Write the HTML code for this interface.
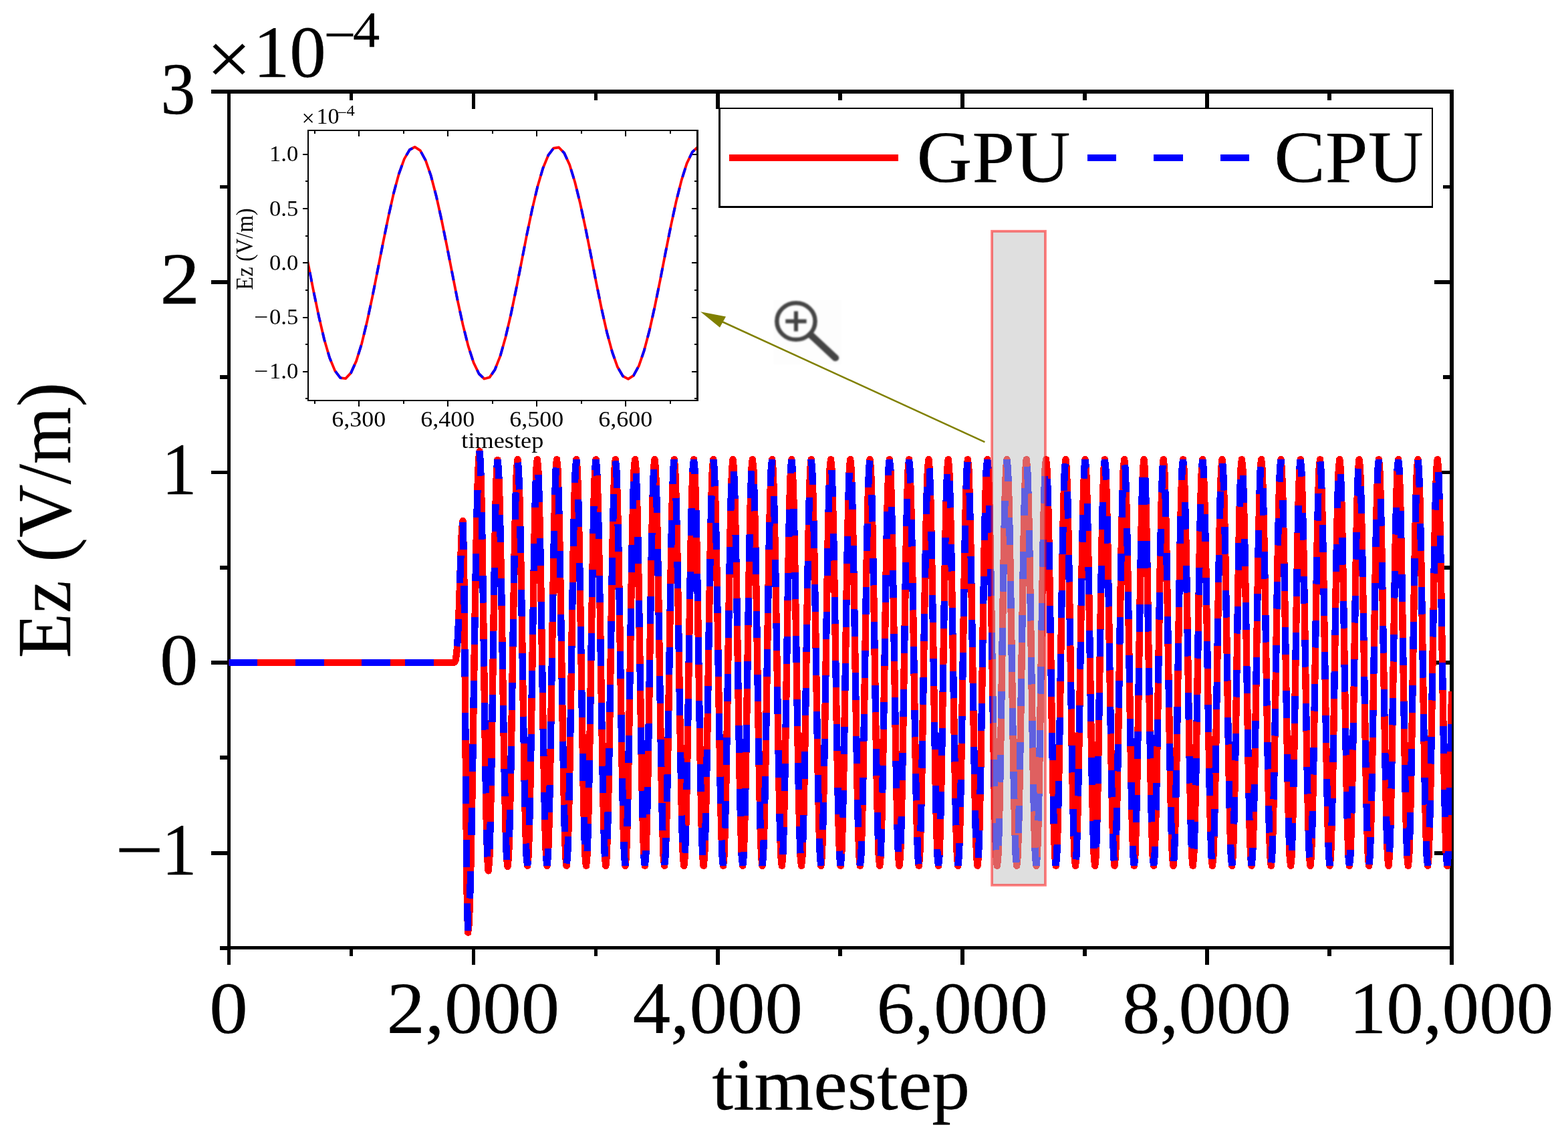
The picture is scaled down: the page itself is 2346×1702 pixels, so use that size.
<!DOCTYPE html>
<html lang="en"><head><meta charset="utf-8"><title>Ez (V/m) vs timestep: GPU and CPU</title>
<style>html,body{margin:0;padding:0;background:#fff}body{width:2346px;height:1702px;overflow:hidden}svg{display:block}text{font-family:"Liberation Serif", serif;fill:#000;stroke:#000;stroke-width:0.25;stroke-linejoin:round}.s text{stroke:none}</style></head><body>
<svg width="2346" height="1702" viewBox="0 0 2346 1702" role="img" aria-label="Ez (V/m) versus timestep, GPU and CPU curves with zoomed inset">
<rect width="2346" height="1702" fill="#fff"/>
<defs><clipPath id="cm"><rect x="342.5" y="137" width="1829.5" height="1280.4"/></clipPath><clipPath id="ci"><rect x="461.3" y="194.9" width="582.3" height="404.1"/></clipPath><filter id="bl" x="-10%" y="-10%" width="120%" height="120%"><feGaussianBlur stdDeviation="0.9"/></filter></defs>
<g id="main-ticks" fill="#000" shape-rendering="crispEdges">
<rect x="339.6" y="1417" width="5.8" height="25.5"/>
<rect x="522.6" y="1417" width="5.8" height="12.5"/>
<rect x="522.6" y="137" width="5.8" height="12.5"/>
<rect x="705.5" y="1417" width="5.8" height="25.5"/>
<rect x="705.5" y="137" width="5.8" height="25.5"/>
<rect x="888.5" y="1417" width="5.8" height="12.5"/>
<rect x="888.5" y="137" width="5.8" height="12.5"/>
<rect x="1071.4" y="1417" width="5.8" height="25.5"/>
<rect x="1071.4" y="137" width="5.8" height="25.5"/>
<rect x="1254.3" y="1417" width="5.8" height="12.5"/>
<rect x="1254.3" y="137" width="5.8" height="12.5"/>
<rect x="1437.3" y="1417" width="5.8" height="25.5"/>
<rect x="1437.3" y="137" width="5.8" height="25.5"/>
<rect x="1620.2" y="1417" width="5.8" height="12.5"/>
<rect x="1620.2" y="137" width="5.8" height="12.5"/>
<rect x="1803.2" y="1417" width="5.8" height="25.5"/>
<rect x="1803.2" y="137" width="5.8" height="25.5"/>
<rect x="1986.1" y="1417" width="5.8" height="12.5"/>
<rect x="1986.1" y="137" width="5.8" height="12.5"/>
<rect x="2169.1" y="1417" width="5.8" height="25.5"/>
<rect x="329.2" y="1415" width="13.3" height="5.8"/>
<rect x="316" y="1272.7" width="26.5" height="5.8"/>
<rect x="2145.5" y="1272.7" width="26.5" height="5.8"/>
<rect x="329.2" y="1130.4" width="13.3" height="5.8"/>
<rect x="2158.7" y="1130.4" width="13.3" height="5.8"/>
<rect x="316" y="988.1" width="26.5" height="5.8"/>
<rect x="2145.5" y="988.1" width="26.5" height="5.8"/>
<rect x="329.2" y="845.8" width="13.3" height="5.8"/>
<rect x="2158.7" y="845.8" width="13.3" height="5.8"/>
<rect x="316" y="703.5" width="26.5" height="5.8"/>
<rect x="2145.5" y="703.5" width="26.5" height="5.8"/>
<rect x="329.2" y="561.2" width="13.3" height="5.8"/>
<rect x="2158.7" y="561.2" width="13.3" height="5.8"/>
<rect x="316" y="418.9" width="26.5" height="5.8"/>
<rect x="2145.5" y="418.9" width="26.5" height="5.8"/>
<rect x="329.2" y="276.6" width="13.3" height="5.8"/>
<rect x="2158.7" y="276.6" width="13.3" height="5.8"/>
<rect x="316" y="134.3" width="26.5" height="5.8"/>
</g>
<g id="main-spines" fill="#000" shape-rendering="crispEdges">
<rect x="340" y="134" width="5" height="1286"/>
<rect x="2169" y="134" width="6" height="1286"/>
<rect x="340" y="134" width="1835" height="6"/>
<rect x="340" y="1415" width="1835" height="5"/>
</g>
<g id="main-curves" clip-path="url(#cm)"><g transform="scale(1.047 1)" fill="none" stroke-width="9.9" shape-rendering="crispEdges">
<g stroke="#f00" stroke-linejoin="round">
<polyline points="327.1,991 579.1,991 646.9,991 648.3,991 649.7,990.5 651.2,986.8 652.7,975.8 654.1,954.3 655.6,920.8 657,877.4 658.5,831.3 659.9,794 661.4,779 662.9,837.8 664.3,991.8 665.8,1182.1 667.3,1336 668.7,1394.8 670.1,1382.6 671.5,1346.6 672.9,1289.4 674.3,1214.8 675.7,1128 677,1034.8 678.4,941.6 679.8,854.8 681.2,780.3 682.6,723 684,687.1 685.3,674.8 686.7,693.7 688.1,748.3 689.5,831.8 690.9,934.2 692.3,1043.2 693.7,1145.7 695.1,1229.2 696.5,1283.7 697.9,1302.6 699.4,1284.1 700.8,1230.7 702.3,1148.9 703.7,1048.5 705.2,941.7 706.7,841.4 708.1,759.6 709.6,706.2 711,687.6 712.5,702.5 713.9,745.7 715.3,813 716.8,897.8 718.2,991.9 719.6,1085.9 721.1,1170.7 722.5,1238 723.9,1281.2 725.4,1296.1 726.8,1281.2 728.2,1237.9 729.7,1170.6 731.1,1085.7 732.5,991.6 734,897.5 735.4,812.6 736.8,745.2 738.3,702 739.7,687 741.1,701.9 742.5,745.1 743.9,812.3 745.3,897.1 746.7,991 748.1,1084.9 749.5,1169.7 750.9,1236.9 752.3,1280.1 753.7,1295 755.1,1280.1 756.5,1236.9 757.9,1169.7 759.3,1084.9 760.7,991 762.1,897.1 763.5,812.3 764.9,745.1 766.3,701.9 767.7,687 769.1,701.9 770.5,745.1 771.9,812.3 773.3,897.1 774.7,991 776.1,1084.9 777.5,1169.7 778.9,1236.9 780.3,1280.1 781.7,1295 783.1,1280.1 784.5,1236.9 785.9,1169.7 787.3,1084.9 788.7,991 790.1,897.1 791.5,812.3 792.9,745.1 794.3,701.9 795.6,687 797,701.9 798.4,745.1 799.8,812.3 801.2,897.1 802.6,991 804,1084.9 805.4,1169.7 806.8,1236.9 808.2,1280.1 809.6,1295 811,1280.1 812.4,1236.9 813.8,1169.7 815.2,1084.9 816.6,991 818,897.1 819.4,812.3 820.8,745.1 822.2,701.9 823.6,687 825,701.9 826.4,745.1 827.8,812.3 829.2,897.1 830.6,991 832,1084.9 833.4,1169.7 834.8,1236.9 836.2,1280.1 837.6,1295 839,1280.1 840.4,1236.9 841.8,1169.7 843.2,1084.9 844.6,991 846,897.1 847.4,812.3 848.8,745.1 850.2,701.9 851.6,687 853,701.9 854.4,745.1 855.8,812.3 857.2,897.1 858.6,991 860,1084.9 861.4,1169.7 862.8,1236.9 864.2,1280.1 865.6,1295 867,1280.1 868.4,1236.9 869.8,1169.7 871.2,1084.9 872.6,991 874,897.1 875.4,812.3 876.8,745.1 878.2,701.9 879.5,687 880.9,701.9 882.3,745.1 883.7,812.3 885.1,897.1 886.5,991 887.9,1084.9 889.3,1169.7 890.7,1236.9 892.1,1280.1 893.5,1295 894.9,1280.1 896.3,1236.9 897.7,1169.7 899.1,1084.9 900.5,991 901.9,897.1 903.3,812.3 904.7,745.1 906.1,701.9 907.5,687 908.9,701.9 910.3,745.1 911.7,812.3 913.1,897.1 914.5,991 915.9,1084.9 917.3,1169.7 918.7,1236.9 920.1,1280.1 921.5,1295 922.9,1280.1 924.3,1236.9 925.7,1169.7 927.1,1084.9 928.5,991 929.9,897.1 931.3,812.3 932.7,745.1 934.1,701.9 935.5,687 936.9,701.9 938.3,745.1 939.7,812.3 941.1,897.1 942.5,991 943.9,1084.9 945.3,1169.7 946.7,1236.9 948.1,1280.1 949.5,1295 950.9,1280.1 952.3,1236.9 953.7,1169.7 955.1,1084.9 956.5,991 957.9,897.1 959.3,812.3 960.7,745.1 962.1,701.9 963.4,687 964.8,701.9 966.2,745.1 967.6,812.3 969,897.1 970.4,991 971.8,1084.9 973.2,1169.7 974.6,1236.9 976,1280.1 977.4,1295 978.8,1280.1 980.2,1236.9 981.6,1169.7 983,1084.9 984.4,991 985.8,897.1 987.2,812.3 988.6,745.1 990,701.9 991.4,687 992.8,701.9 994.2,745.1 995.6,812.3 997,897.1 998.4,991 999.8,1084.9 1001.2,1169.7 1002.6,1236.9 1004,1280.1 1005.4,1295 1006.8,1280.1 1008.2,1236.9 1009.6,1169.7 1011,1084.9 1012.4,991 1013.8,897.1 1015.2,812.3 1016.6,745.1 1018,701.9 1019.4,687 1020.8,701.9 1022.2,745.1 1023.6,812.3 1025,897.1 1026.4,991 1027.8,1084.9 1029.2,1169.7 1030.6,1236.9 1032,1280.1 1033.4,1295 1034.8,1280.1 1036.2,1236.9 1037.6,1169.7 1039,1084.9 1040.4,991 1041.8,897.1 1043.2,812.3 1044.6,745.1 1046,701.9 1047.3,687 1048.7,701.9 1050.1,745.1 1051.5,812.3 1052.9,897.1 1054.3,991 1055.7,1084.9 1057.1,1169.7 1058.5,1236.9 1059.9,1280.1 1061.3,1295 1062.7,1280.1 1064.1,1236.9 1065.5,1169.7 1066.9,1084.9 1068.3,991 1069.7,897.1 1071.1,812.3 1072.5,745.1 1073.9,701.9 1075.3,687 1076.7,701.9 1078.1,745.1 1079.5,812.3 1080.9,897.1 1082.3,991 1083.7,1084.9 1085.1,1169.7 1086.5,1236.9 1087.9,1280.1 1089.3,1295 1090.7,1280.1 1092.1,1236.9 1093.5,1169.7 1094.9,1084.9 1096.3,991 1097.7,897.1 1099.1,812.3 1100.5,745.1 1101.9,701.9 1103.3,687 1104.7,701.9 1106.1,745.1 1107.5,812.3 1108.9,897.1 1110.3,991 1111.7,1084.9 1113.1,1169.7 1114.5,1236.9 1115.9,1280.1 1117.3,1295 1118.7,1280.1 1120.1,1236.9 1121.5,1169.7 1122.9,1084.9 1124.3,991 1125.7,897.1 1127.1,812.3 1128.5,745.1 1129.9,701.9 1131.2,687 1132.6,701.9 1134,745.1 1135.4,812.3 1136.8,897.1 1138.2,991 1139.6,1084.9 1141,1169.7 1142.4,1236.9 1143.8,1280.1 1145.2,1295 1146.6,1280.1 1148,1236.9 1149.4,1169.7 1150.8,1084.9 1152.2,991 1153.6,897.1 1155,812.3 1156.4,745.1 1157.8,701.9 1159.2,687 1160.6,701.9 1162,745.1 1163.4,812.3 1164.8,897.1 1166.2,991 1167.6,1084.9 1169,1169.7 1170.4,1236.9 1171.8,1280.1 1173.2,1295 1174.6,1280.1 1176,1236.9 1177.4,1169.7 1178.8,1084.9 1180.2,991 1181.6,897.1 1183,812.3 1184.4,745.1 1185.8,701.9 1187.2,687 1188.6,701.9 1190,745.1 1191.4,812.3 1192.8,897.1 1194.2,991 1195.6,1084.9 1197,1169.7 1198.4,1236.9 1199.8,1280.1 1201.2,1295 1202.6,1280.1 1204,1236.9 1205.4,1169.7 1206.8,1084.9 1208.2,991 1209.6,897.1 1211,812.3 1212.4,745.1 1213.8,701.9 1215.1,687 1216.5,701.9 1217.9,745.1 1219.3,812.3 1220.7,897.1 1222.1,991 1223.5,1084.9 1224.9,1169.7 1226.3,1236.9 1227.7,1280.1 1229.1,1295 1230.5,1280.1 1231.9,1236.9 1233.3,1169.7 1234.7,1084.9 1236.1,991 1237.5,897.1 1238.9,812.3 1240.3,745.1 1241.7,701.9 1243.1,687 1244.5,701.9 1245.9,745.1 1247.3,812.3 1248.7,897.1 1250.1,991 1251.5,1084.9 1252.9,1169.7 1254.3,1236.9 1255.7,1280.1 1257.1,1295 1258.5,1280.1 1259.9,1236.9 1261.3,1169.7 1262.7,1084.9 1264.1,991 1265.5,897.1 1266.9,812.3 1268.3,745.1 1269.7,701.9 1271.1,687 1272.5,701.9 1273.9,745.1 1275.3,812.3 1276.7,897.1 1278.1,991 1279.5,1084.9 1280.9,1169.7 1282.3,1236.9 1283.7,1280.1 1285.1,1295 1286.5,1280.1 1287.9,1236.9 1289.3,1169.7 1290.7,1084.9 1292.1,991 1293.5,897.1 1294.9,812.3 1296.3,745.1 1297.7,701.9 1299,687 1300.4,701.9 1301.8,745.1 1303.2,812.3 1304.6,897.1 1306,991 1307.4,1084.9 1308.8,1169.7 1310.2,1236.9 1311.6,1280.1 1313,1295 1314.4,1280.1 1315.8,1236.9 1317.2,1169.7 1318.6,1084.9 1320,991 1321.4,897.1 1322.8,812.3 1324.2,745.1 1325.6,701.9 1327,687 1328.4,701.9 1329.8,745.1 1331.2,812.3 1332.6,897.1 1334,991 1335.4,1084.9 1336.8,1169.7 1338.2,1236.9 1339.6,1280.1 1341,1295 1342.4,1280.1 1343.8,1236.9 1345.2,1169.7 1346.6,1084.9 1348,991 1349.4,897.1 1350.8,812.3 1352.2,745.1 1353.6,701.9 1355,687 1356.4,701.9 1357.8,745.1 1359.2,812.3 1360.6,897.1 1362,991 1363.4,1084.9 1364.8,1169.7 1366.2,1236.9 1367.6,1280.1 1369,1295 1370.4,1280.1 1371.8,1236.9 1373.2,1169.7 1374.6,1084.9 1376,991 1377.4,897.1 1378.8,812.3 1380.2,745.1 1381.6,701.9 1382.9,687 1384.3,701.9 1385.7,745.1 1387.1,812.3 1388.5,897.1 1389.9,991 1391.3,1084.9 1392.7,1169.7 1394.1,1236.9 1395.5,1280.1 1396.9,1295 1398.3,1280.1 1399.7,1236.9 1401.1,1169.7 1402.5,1084.9 1403.9,991 1405.3,897.1 1406.7,812.3 1408.1,745.1 1409.5,701.9 1410.9,687 1412.3,701.9 1413.7,745.1 1415.1,812.3 1416.5,897.1 1417.9,991 1419.3,1084.9 1420.7,1169.7 1422.1,1236.9 1423.5,1280.1 1424.9,1295 1426.3,1280.1 1427.7,1236.9 1429.1,1169.7 1430.5,1084.9 1431.9,991 1433.3,897.1 1434.7,812.3 1436.1,745.1 1437.5,701.9 1438.9,687 1440.3,701.9 1441.7,745.1 1443.1,812.3 1444.5,897.1 1445.9,991 1447.3,1084.9 1448.7,1169.7 1450.1,1236.9 1451.5,1280.1 1452.9,1295 1454.3,1280.1 1455.7,1236.9 1457.1,1169.7 1458.5,1084.9 1459.9,991 1461.3,897.1 1462.7,812.3 1464.1,745.1 1465.5,701.9 1466.8,687 1468.2,701.9 1469.6,745.1 1471,812.3 1472.4,897.1 1473.8,991 1475.2,1084.9 1476.6,1169.7 1478,1236.9 1479.4,1280.1 1480.8,1295 1482.2,1280.1 1483.6,1236.9 1485,1169.7 1486.4,1084.9 1487.8,991 1489.2,897.1 1490.6,812.3 1492,745.1 1493.4,701.9 1494.8,687 1496.2,701.9 1497.6,745.1 1499,812.3 1500.4,897.1 1501.8,991 1503.2,1084.9 1504.6,1169.7 1506,1236.9 1507.4,1280.1 1508.8,1295 1510.2,1280.1 1511.6,1236.9 1513,1169.7 1514.4,1084.9 1515.8,991 1517.2,897.1 1518.6,812.3 1520,745.1 1521.4,701.9 1522.8,687 1524.2,701.9 1525.6,745.1 1527,812.3 1528.4,897.1 1529.8,991 1531.2,1084.9 1532.6,1169.7 1534,1236.9 1535.4,1280.1 1536.8,1295 1538.2,1280.1 1539.6,1236.9 1541,1169.7 1542.4,1084.9 1543.8,991 1545.2,897.1 1546.6,812.3 1548,745.1 1549.4,701.9 1550.7,687 1552.1,701.9 1553.5,745.1 1554.9,812.3 1556.3,897.1 1557.7,991 1559.1,1084.9 1560.5,1169.7 1561.9,1236.9 1563.3,1280.1 1564.7,1295 1566.1,1280.1 1567.5,1236.9 1568.9,1169.7 1570.3,1084.9 1571.7,991 1573.1,897.1 1574.5,812.3 1575.9,745.1 1577.3,701.9 1578.7,687 1580.1,701.9 1581.5,745.1 1582.9,812.3 1584.3,897.1 1585.7,991 1587.1,1084.9 1588.5,1169.7 1589.9,1236.9 1591.3,1280.1 1592.7,1295 1594.1,1280.1 1595.5,1236.9 1596.9,1169.7 1598.3,1084.9 1599.7,991 1601.1,897.1 1602.5,812.3 1603.9,745.1 1605.3,701.9 1606.7,687 1608.1,701.9 1609.5,745.1 1610.9,812.3 1612.3,897.1 1613.7,991 1615.1,1084.9 1616.5,1169.7 1617.9,1236.9 1619.3,1280.1 1620.7,1295 1622.1,1280.1 1623.5,1236.9 1624.9,1169.7 1626.3,1084.9 1627.7,991 1629.1,897.1 1630.5,812.3 1631.9,745.1 1633.3,701.9 1634.6,687 1636,701.9 1637.4,745.1 1638.8,812.3 1640.2,897.1 1641.6,991 1643,1084.9 1644.4,1169.7 1645.8,1236.9 1647.2,1280.1 1648.6,1295 1650,1280.1 1651.4,1236.9 1652.8,1169.7 1654.2,1084.9 1655.6,991 1657,897.1 1658.4,812.3 1659.8,745.1 1661.2,701.9 1662.6,687 1664,701.9 1665.4,745.1 1666.8,812.3 1668.2,897.1 1669.6,991 1671,1084.9 1672.4,1169.7 1673.8,1236.9 1675.2,1280.1 1676.6,1295 1678,1280.1 1679.4,1236.9 1680.8,1169.7 1682.2,1084.9 1683.6,991 1685,897.1 1686.4,812.3 1687.8,745.1 1689.2,701.9 1690.6,687 1692,701.9 1693.4,745.1 1694.8,812.3 1696.2,897.1 1697.6,991 1699,1084.9 1700.4,1169.7 1701.8,1236.9 1703.2,1280.1 1704.6,1295 1706,1280.1 1707.4,1236.9 1708.8,1169.7 1710.2,1084.9 1711.6,991 1713,897.1 1714.4,812.3 1715.8,745.1 1717.2,701.9 1718.5,687 1719.9,701.9 1721.3,745.1 1722.7,812.3 1724.1,897.1 1725.5,991 1726.9,1084.9 1728.3,1169.7 1729.7,1236.9 1731.1,1280.1 1732.5,1295 1733.9,1280.1 1735.3,1236.9 1736.7,1169.7 1738.1,1084.9 1739.5,991 1740.9,897.1 1742.3,812.3 1743.7,745.1 1745.1,701.9 1746.5,687 1747.9,701.9 1749.3,745.1 1750.7,812.3 1752.1,897.1 1753.5,991 1754.9,1084.9 1756.3,1169.7 1757.7,1236.9 1759.1,1280.1 1760.5,1295 1761.9,1280.1 1763.3,1236.9 1764.7,1169.7 1766.1,1084.9 1767.5,991 1768.9,897.1 1770.3,812.3 1771.7,745.1 1773.1,701.9 1774.5,687 1775.9,701.9 1777.3,745.1 1778.7,812.3 1780.1,897.1 1781.5,991 1782.9,1084.9 1784.3,1169.7 1785.7,1236.9 1787.1,1280.1 1788.5,1295 1789.9,1280.1 1791.3,1236.9 1792.7,1169.7 1794.1,1084.9 1795.5,991 1796.9,897.1 1798.3,812.3 1799.7,745.1 1801.1,701.9 1802.4,687 1803.8,701.9 1805.2,745.1 1806.6,812.3 1808,897.1 1809.4,991 1810.8,1084.9 1812.2,1169.7 1813.6,1236.9 1815,1280.1 1816.4,1295 1817.8,1280.1 1819.2,1236.9 1820.6,1169.7 1822,1084.9 1823.4,991 1824.8,897.1 1826.2,812.3 1827.6,745.1 1829,701.9 1830.4,687 1831.8,701.9 1833.2,745.1 1834.6,812.3 1836,897.1 1837.4,991 1838.8,1084.9 1840.2,1169.7 1841.6,1236.9 1843,1280.1 1844.4,1295 1845.8,1280.1 1847.2,1236.9 1848.6,1169.7 1850,1084.9 1851.4,991 1852.8,897.1 1854.2,812.3 1855.6,745.1 1857,701.9 1858.4,687 1859.8,701.9 1861.2,745.1 1862.6,812.3 1864,897.1 1865.4,991 1866.8,1084.9 1868.2,1169.7 1869.6,1236.9 1871,1280.1 1872.4,1295 1873.8,1280.1 1875.2,1236.9 1876.6,1169.7 1878,1084.9 1879.4,991 1880.8,897.1 1882.2,812.3 1883.6,745.1 1885,701.9 1886.4,687 1887.7,701.9 1889.1,745.1 1890.5,812.3 1891.9,897.1 1893.3,991 1894.7,1084.9 1896.1,1169.7 1897.5,1236.9 1898.9,1280.1 1900.3,1295 1901.7,1280.1 1903.1,1236.9 1904.5,1169.7 1905.9,1084.9 1907.3,991 1908.7,897.1 1910.1,812.3 1911.5,745.1 1912.9,701.9 1914.3,687 1915.7,701.9 1917.1,745.1 1918.5,812.3 1919.9,897.1 1921.3,991 1922.7,1084.9 1924.1,1169.7 1925.5,1236.9 1926.9,1280.1 1928.3,1295 1929.7,1280.1 1931.1,1236.9 1932.5,1169.7 1933.9,1084.9 1935.3,991 1936.7,897.1 1938.1,812.3 1939.5,745.1 1940.9,701.9 1942.3,687 1943.7,701.9 1945.1,745.1 1946.5,812.3 1947.9,897.1 1949.3,991 1950.7,1084.9 1952.1,1169.7 1953.5,1236.9 1954.9,1280.1 1956.3,1295 1957.7,1280.1 1959.1,1236.9 1960.5,1169.7 1961.9,1084.9 1963.3,991 1964.7,897.1 1966.1,812.3 1967.5,745.1 1968.9,701.9 1970.3,687 1971.6,701.9 1973,745.1 1974.4,812.3 1975.8,897.1 1977.2,991 1978.6,1084.9 1980,1169.7 1981.4,1236.9 1982.8,1280.1 1984.2,1295 1985.6,1280.1 1987,1236.9 1988.4,1169.7 1989.8,1084.9 1991.2,991 1992.6,897.1 1994,812.3 1995.4,745.1 1996.8,701.9 1998.2,687 1999.6,701.9 2001,745.1 2002.4,812.3 2003.8,897.1 2005.2,991 2006.6,1084.9 2008,1169.7 2009.4,1236.9 2010.8,1280.1 2012.2,1295 2013.6,1280.1 2015,1236.9 2016.4,1169.7 2017.8,1084.9 2019.2,991 2020.6,897.1 2022,812.3 2023.4,745.1 2024.8,701.9 2026.2,687 2027.6,701.9 2029,745.1 2030.4,812.3 2031.8,897.1 2033.2,991 2034.6,1084.9 2036,1169.7 2037.4,1236.9 2038.8,1280.1 2040.2,1295 2041.6,1280.1 2043,1236.9 2044.4,1169.7 2045.8,1084.9 2047.2,991 2048.6,897.1 2050,812.3 2051.4,745.1 2052.8,701.9 2054.2,687 2055.5,701.9 2056.9,745.1 2058.3,812.3 2059.7,897.1 2061.1,991 2062.5,1084.9 2063.9,1169.7 2065.3,1236.9 2066.7,1280.1 2068.1,1295 2069.5,1280.1 2070.9,1236.9 2072.3,1169.7 2073.7,1084.9 2074.5,1033.7"/>
</g><g stroke="#00f" stroke-linejoin="bevel" stroke-dasharray="40.8 54.2">
<polyline points="327.1,991 579.1,991"/>
<polyline points="579.1,991 646.9,991 648.3,991 649.7,990.5 651.2,986.8 652.7,975.8 654.1,954.3 655.6,920.8 657,877.4 658.5,831.3 659.9,794 661.4,779 662.9,837.8 664.3,991.8 665.8,1182.1 667.3,1336 668.7,1394.8 670.1,1382.6 671.5,1346.6 672.9,1289.4 674.3,1214.8 675.7,1128 677,1034.8 678.4,941.6 679.8,854.8 681.2,780.3 682.6,723 684,687.1 685.3,674.8 686.7,693.7 688.1,748.3 689.5,831.8 690.9,934.2 692.3,1043.2 693.7,1145.7 695.1,1229.2 696.5,1283.7 697.9,1302.6 699.4,1284.1 700.8,1230.7 702.3,1148.9 703.7,1048.5 705.2,941.7 706.7,841.4 708.1,759.6 709.6,706.2 711,687.6 712.5,702.5 713.9,745.7 715.3,813 716.8,897.8 718.2,991.9 719.6,1085.9 721.1,1170.7 722.5,1238 723.9,1281.2 725.4,1296.1 726.8,1281.2 728.2,1237.9 729.7,1170.6 731.1,1085.7 732.5,991.6 734,897.5 735.4,812.6 736.8,745.2 738.3,702 739.7,687 741.1,701.9 742.5,745.1 743.9,812.3 745.3,897.1 746.7,991 748.1,1084.9 749.5,1169.7 750.9,1236.9 752.3,1280.1 753.7,1295 755.1,1280.1 756.5,1236.9 757.9,1169.7 759.3,1084.9 760.7,991 762.1,897.1 763.5,812.3 764.9,745.1 766.3,701.9 767.7,687 769.1,701.9 770.5,745.1 771.9,812.3 773.3,897.1 774.7,991 776.1,1084.9 777.5,1169.7 778.9,1236.9 780.3,1280.1 781.7,1295 783.1,1280.1 784.5,1236.9 785.9,1169.7 787.3,1084.9 788.7,991 790.1,897.1 791.5,812.3 792.9,745.1 794.3,701.9 795.6,687 797,701.9 798.4,745.1 799.8,812.3 801.2,897.1 802.6,991 804,1084.9 805.4,1169.7 806.8,1236.9 808.2,1280.1 809.6,1295 811,1280.1 812.4,1236.9 813.8,1169.7 815.2,1084.9 816.6,991 818,897.1 819.4,812.3 820.8,745.1 822.2,701.9 823.6,687 825,701.9 826.4,745.1 827.8,812.3 829.2,897.1 830.6,991 832,1084.9 833.4,1169.7 834.8,1236.9 836.2,1280.1 837.6,1295 839,1280.1 840.4,1236.9 841.8,1169.7 843.2,1084.9 844.6,991 846,897.1 847.4,812.3 848.8,745.1 850.2,701.9 851.6,687 853,701.9 854.4,745.1 855.8,812.3 857.2,897.1 858.6,991 860,1084.9 861.4,1169.7 862.8,1236.9 864.2,1280.1 865.6,1295 867,1280.1 868.4,1236.9 869.8,1169.7 871.2,1084.9 872.6,991 874,897.1 875.4,812.3 876.8,745.1 878.2,701.9 879.5,687 880.9,701.9 882.3,745.1 883.7,812.3 885.1,897.1 886.5,991 887.9,1084.9 889.3,1169.7 890.7,1236.9 892.1,1280.1 893.5,1295 894.9,1280.1 896.3,1236.9 897.7,1169.7 899.1,1084.9 900.5,991 901.9,897.1 903.3,812.3 904.7,745.1 906.1,701.9 907.5,687 908.9,701.9 910.3,745.1 911.7,812.3 913.1,897.1 914.5,991 915.9,1084.9 917.3,1169.7 918.7,1236.9 920.1,1280.1 921.5,1295 922.9,1280.1 924.3,1236.9 925.7,1169.7 927.1,1084.9 928.5,991 929.9,897.1 931.3,812.3 932.7,745.1 934.1,701.9 935.5,687 936.9,701.9 938.3,745.1 939.7,812.3 941.1,897.1 942.5,991 943.9,1084.9 945.3,1169.7 946.7,1236.9 948.1,1280.1 949.5,1295 950.9,1280.1 952.3,1236.9 953.7,1169.7 955.1,1084.9 956.5,991 957.9,897.1 959.3,812.3 960.7,745.1 962.1,701.9 963.4,687 964.8,701.9 966.2,745.1 967.6,812.3 969,897.1 970.4,991 971.8,1084.9 973.2,1169.7 974.6,1236.9 976,1280.1 977.4,1295 978.8,1280.1 980.2,1236.9 981.6,1169.7 983,1084.9 984.4,991 985.8,897.1 987.2,812.3 988.6,745.1 990,701.9 991.4,687 992.8,701.9 994.2,745.1 995.6,812.3 997,897.1 998.4,991 999.8,1084.9 1001.2,1169.7 1002.6,1236.9 1004,1280.1 1005.4,1295 1006.8,1280.1 1008.2,1236.9 1009.6,1169.7 1011,1084.9 1012.4,991 1013.8,897.1 1015.2,812.3 1016.6,745.1 1018,701.9 1019.4,687 1020.8,701.9 1022.2,745.1 1023.6,812.3 1025,897.1 1026.4,991 1027.8,1084.9 1029.2,1169.7 1030.6,1236.9 1032,1280.1 1033.4,1295 1034.8,1280.1 1036.2,1236.9 1037.6,1169.7 1039,1084.9 1040.4,991 1041.8,897.1 1043.2,812.3 1044.6,745.1 1046,701.9 1047.3,687 1048.7,701.9 1050.1,745.1 1051.5,812.3 1052.9,897.1 1054.3,991 1055.7,1084.9 1057.1,1169.7 1058.5,1236.9 1059.9,1280.1 1061.3,1295 1062.7,1280.1 1064.1,1236.9 1065.5,1169.7 1066.9,1084.9 1068.3,991 1069.7,897.1 1071.1,812.3 1072.5,745.1 1073.9,701.9 1075.3,687 1076.7,701.9 1078.1,745.1 1079.5,812.3 1080.9,897.1 1082.3,991 1083.7,1084.9 1085.1,1169.7 1086.5,1236.9 1087.9,1280.1 1089.3,1295 1090.7,1280.1 1092.1,1236.9 1093.5,1169.7 1094.9,1084.9 1096.3,991 1097.7,897.1 1099.1,812.3 1100.5,745.1 1101.9,701.9 1103.3,687 1104.7,701.9 1106.1,745.1 1107.5,812.3 1108.9,897.1 1110.3,991 1111.7,1084.9 1113.1,1169.7 1114.5,1236.9 1115.9,1280.1 1117.3,1295 1118.7,1280.1 1120.1,1236.9 1121.5,1169.7 1122.9,1084.9 1124.3,991 1125.7,897.1 1127.1,812.3 1128.5,745.1 1129.9,701.9 1131.2,687 1132.6,701.9 1134,745.1 1135.4,812.3 1136.8,897.1 1138.2,991 1139.6,1084.9 1141,1169.7 1142.4,1236.9 1143.8,1280.1 1145.2,1295 1146.6,1280.1 1148,1236.9 1149.4,1169.7 1150.8,1084.9 1152.2,991 1153.6,897.1 1155,812.3 1156.4,745.1 1157.8,701.9 1159.2,687 1160.6,701.9 1162,745.1 1163.4,812.3 1164.8,897.1 1166.2,991 1167.6,1084.9 1169,1169.7 1170.4,1236.9 1171.8,1280.1 1173.2,1295 1174.6,1280.1 1176,1236.9 1177.4,1169.7 1178.8,1084.9 1180.2,991 1181.6,897.1 1183,812.3 1184.4,745.1 1185.8,701.9 1187.2,687 1188.6,701.9 1190,745.1 1191.4,812.3 1192.8,897.1 1194.2,991 1195.6,1084.9 1197,1169.7 1198.4,1236.9 1199.8,1280.1 1201.2,1295 1202.6,1280.1 1204,1236.9 1205.4,1169.7 1206.8,1084.9 1208.2,991 1209.6,897.1 1211,812.3 1212.4,745.1 1213.8,701.9 1215.1,687 1216.5,701.9 1217.9,745.1 1219.3,812.3 1220.7,897.1 1222.1,991 1223.5,1084.9 1224.9,1169.7 1226.3,1236.9 1227.7,1280.1 1229.1,1295 1230.5,1280.1 1231.9,1236.9 1233.3,1169.7 1234.7,1084.9 1236.1,991 1237.5,897.1 1238.9,812.3 1240.3,745.1 1241.7,701.9 1243.1,687 1244.5,701.9 1245.9,745.1 1247.3,812.3 1248.7,897.1 1250.1,991 1251.5,1084.9 1252.9,1169.7 1254.3,1236.9 1255.7,1280.1 1257.1,1295 1258.5,1280.1 1259.9,1236.9 1261.3,1169.7 1262.7,1084.9 1264.1,991 1265.5,897.1 1266.9,812.3 1268.3,745.1 1269.7,701.9 1271.1,687 1272.5,701.9 1273.9,745.1 1275.3,812.3 1276.7,897.1 1278.1,991 1279.5,1084.9 1280.9,1169.7 1282.3,1236.9 1283.7,1280.1 1285.1,1295 1286.5,1280.1 1287.9,1236.9 1289.3,1169.7 1290.7,1084.9 1292.1,991 1293.5,897.1 1294.9,812.3 1296.3,745.1 1297.7,701.9 1299,687 1300.4,701.9 1301.8,745.1 1303.2,812.3 1304.6,897.1 1306,991 1307.4,1084.9 1308.8,1169.7 1310.2,1236.9 1311.6,1280.1 1313,1295 1314.4,1280.1 1315.8,1236.9 1317.2,1169.7 1318.6,1084.9 1320,991 1321.4,897.1 1322.8,812.3 1324.2,745.1 1325.6,701.9 1327,687 1328.4,701.9 1329.8,745.1 1331.2,812.3 1332.6,897.1 1334,991 1335.4,1084.9 1336.8,1169.7 1338.2,1236.9 1339.6,1280.1 1341,1295 1342.4,1280.1 1343.8,1236.9 1345.2,1169.7 1346.6,1084.9 1348,991 1349.4,897.1 1350.8,812.3 1352.2,745.1 1353.6,701.9 1355,687 1356.4,701.9 1357.8,745.1 1359.2,812.3 1360.6,897.1 1362,991 1363.4,1084.9 1364.8,1169.7 1366.2,1236.9 1367.6,1280.1 1369,1295 1370.4,1280.1 1371.8,1236.9 1373.2,1169.7 1374.6,1084.9 1376,991 1377.4,897.1 1378.8,812.3 1380.2,745.1 1381.6,701.9 1382.9,687 1384.3,701.9 1385.7,745.1 1387.1,812.3 1388.5,897.1 1389.9,991 1391.3,1084.9 1392.7,1169.7 1394.1,1236.9 1395.5,1280.1 1396.9,1295 1398.3,1280.1 1399.7,1236.9 1401.1,1169.7 1402.5,1084.9 1403.9,991 1405.3,897.1 1406.7,812.3 1408.1,745.1 1409.5,701.9 1410.9,687 1412.3,701.9 1413.7,745.1 1415.1,812.3 1416.5,897.1 1417.9,991 1419.3,1084.9 1420.7,1169.7 1422.1,1236.9 1423.5,1280.1 1424.9,1295 1426.3,1280.1 1427.7,1236.9 1429.1,1169.7 1430.5,1084.9 1431.9,991 1433.3,897.1 1434.7,812.3 1436.1,745.1 1437.5,701.9 1438.9,687 1440.3,701.9 1441.7,745.1 1443.1,812.3 1444.5,897.1 1445.9,991 1447.3,1084.9 1448.7,1169.7 1450.1,1236.9 1451.5,1280.1 1452.9,1295 1454.3,1280.1 1455.7,1236.9 1457.1,1169.7 1458.5,1084.9 1459.9,991 1461.3,897.1 1462.7,812.3 1464.1,745.1 1465.5,701.9 1466.8,687 1468.2,701.9 1469.6,745.1 1471,812.3 1472.4,897.1 1473.8,991 1475.2,1084.9 1476.6,1169.7 1478,1236.9 1479.4,1280.1 1480.8,1295 1482.2,1280.1 1483.6,1236.9 1485,1169.7 1486.4,1084.9 1487.8,991 1489.2,897.1 1490.6,812.3 1492,745.1 1493.4,701.9 1494.8,687 1496.2,701.9 1497.6,745.1 1499,812.3 1500.4,897.1 1501.8,991 1503.2,1084.9 1504.6,1169.7 1506,1236.9 1507.4,1280.1 1508.8,1295 1510.2,1280.1 1511.6,1236.9 1513,1169.7 1514.4,1084.9 1515.8,991 1517.2,897.1 1518.6,812.3 1520,745.1 1521.4,701.9 1522.8,687 1524.2,701.9 1525.6,745.1 1527,812.3 1528.4,897.1 1529.8,991 1531.2,1084.9 1532.6,1169.7 1534,1236.9 1535.4,1280.1 1536.8,1295 1538.2,1280.1 1539.6,1236.9 1541,1169.7 1542.4,1084.9 1543.8,991 1545.2,897.1 1546.6,812.3 1548,745.1 1549.4,701.9 1550.7,687 1552.1,701.9 1553.5,745.1 1554.9,812.3 1556.3,897.1 1557.7,991 1559.1,1084.9 1560.5,1169.7 1561.9,1236.9 1563.3,1280.1 1564.7,1295 1566.1,1280.1 1567.5,1236.9 1568.9,1169.7 1570.3,1084.9 1571.7,991 1573.1,897.1 1574.5,812.3 1575.9,745.1 1577.3,701.9 1578.7,687 1580.1,701.9 1581.5,745.1 1582.9,812.3 1584.3,897.1 1585.7,991 1587.1,1084.9 1588.5,1169.7 1589.9,1236.9 1591.3,1280.1 1592.7,1295 1594.1,1280.1 1595.5,1236.9 1596.9,1169.7 1598.3,1084.9 1599.7,991 1601.1,897.1 1602.5,812.3 1603.9,745.1 1605.3,701.9 1606.7,687 1608.1,701.9 1609.5,745.1 1610.9,812.3 1612.3,897.1 1613.7,991 1615.1,1084.9 1616.5,1169.7 1617.9,1236.9 1619.3,1280.1 1620.7,1295 1622.1,1280.1 1623.5,1236.9 1624.9,1169.7 1626.3,1084.9 1627.7,991 1629.1,897.1 1630.5,812.3 1631.9,745.1 1633.3,701.9 1634.6,687 1636,701.9 1637.4,745.1 1638.8,812.3 1640.2,897.1 1641.6,991 1643,1084.9 1644.4,1169.7 1645.8,1236.9 1647.2,1280.1 1648.6,1295 1650,1280.1 1651.4,1236.9 1652.8,1169.7 1654.2,1084.9 1655.6,991 1657,897.1 1658.4,812.3 1659.8,745.1 1661.2,701.9 1662.6,687 1664,701.9 1665.4,745.1 1666.8,812.3 1668.2,897.1 1669.6,991 1671,1084.9 1672.4,1169.7 1673.8,1236.9 1675.2,1280.1 1676.6,1295 1678,1280.1 1679.4,1236.9 1680.8,1169.7 1682.2,1084.9 1683.6,991 1685,897.1 1686.4,812.3 1687.8,745.1 1689.2,701.9 1690.6,687 1692,701.9 1693.4,745.1 1694.8,812.3 1696.2,897.1 1697.6,991 1699,1084.9 1700.4,1169.7 1701.8,1236.9 1703.2,1280.1 1704.6,1295 1706,1280.1 1707.4,1236.9 1708.8,1169.7 1710.2,1084.9 1711.6,991 1713,897.1 1714.4,812.3 1715.8,745.1 1717.2,701.9 1718.5,687 1719.9,701.9 1721.3,745.1 1722.7,812.3 1724.1,897.1 1725.5,991 1726.9,1084.9 1728.3,1169.7 1729.7,1236.9 1731.1,1280.1 1732.5,1295 1733.9,1280.1 1735.3,1236.9 1736.7,1169.7 1738.1,1084.9 1739.5,991 1740.9,897.1 1742.3,812.3 1743.7,745.1 1745.1,701.9 1746.5,687 1747.9,701.9 1749.3,745.1 1750.7,812.3 1752.1,897.1 1753.5,991 1754.9,1084.9 1756.3,1169.7 1757.7,1236.9 1759.1,1280.1 1760.5,1295 1761.9,1280.1 1763.3,1236.9 1764.7,1169.7 1766.1,1084.9 1767.5,991 1768.9,897.1 1770.3,812.3 1771.7,745.1 1773.1,701.9 1774.5,687 1775.9,701.9 1777.3,745.1 1778.7,812.3 1780.1,897.1 1781.5,991 1782.9,1084.9 1784.3,1169.7 1785.7,1236.9 1787.1,1280.1 1788.5,1295 1789.9,1280.1 1791.3,1236.9 1792.7,1169.7 1794.1,1084.9 1795.5,991 1796.9,897.1 1798.3,812.3 1799.7,745.1 1801.1,701.9 1802.4,687 1803.8,701.9 1805.2,745.1 1806.6,812.3 1808,897.1 1809.4,991 1810.8,1084.9 1812.2,1169.7 1813.6,1236.9 1815,1280.1 1816.4,1295 1817.8,1280.1 1819.2,1236.9 1820.6,1169.7 1822,1084.9 1823.4,991 1824.8,897.1 1826.2,812.3 1827.6,745.1 1829,701.9 1830.4,687 1831.8,701.9 1833.2,745.1 1834.6,812.3 1836,897.1 1837.4,991 1838.8,1084.9 1840.2,1169.7 1841.6,1236.9 1843,1280.1 1844.4,1295 1845.8,1280.1 1847.2,1236.9 1848.6,1169.7 1850,1084.9 1851.4,991 1852.8,897.1 1854.2,812.3 1855.6,745.1 1857,701.9 1858.4,687 1859.8,701.9 1861.2,745.1 1862.6,812.3 1864,897.1 1865.4,991 1866.8,1084.9 1868.2,1169.7 1869.6,1236.9 1871,1280.1 1872.4,1295 1873.8,1280.1 1875.2,1236.9 1876.6,1169.7 1878,1084.9 1879.4,991 1880.8,897.1 1882.2,812.3 1883.6,745.1 1885,701.9 1886.4,687 1887.7,701.9 1889.1,745.1 1890.5,812.3 1891.9,897.1 1893.3,991 1894.7,1084.9 1896.1,1169.7 1897.5,1236.9 1898.9,1280.1 1900.3,1295 1901.7,1280.1 1903.1,1236.9 1904.5,1169.7 1905.9,1084.9 1907.3,991 1908.7,897.1 1910.1,812.3 1911.5,745.1 1912.9,701.9 1914.3,687 1915.7,701.9 1917.1,745.1 1918.5,812.3 1919.9,897.1 1921.3,991 1922.7,1084.9 1924.1,1169.7 1925.5,1236.9 1926.9,1280.1 1928.3,1295 1929.7,1280.1 1931.1,1236.9 1932.5,1169.7 1933.9,1084.9 1935.3,991 1936.7,897.1 1938.1,812.3 1939.5,745.1 1940.9,701.9 1942.3,687 1943.7,701.9 1945.1,745.1 1946.5,812.3 1947.9,897.1 1949.3,991 1950.7,1084.9 1952.1,1169.7 1953.5,1236.9 1954.9,1280.1 1956.3,1295 1957.7,1280.1 1959.1,1236.9 1960.5,1169.7 1961.9,1084.9 1963.3,991 1964.7,897.1 1966.1,812.3 1967.5,745.1 1968.9,701.9 1970.3,687 1971.6,701.9 1973,745.1 1974.4,812.3 1975.8,897.1 1977.2,991 1978.6,1084.9 1980,1169.7 1981.4,1236.9 1982.8,1280.1 1984.2,1295 1985.6,1280.1 1987,1236.9 1988.4,1169.7 1989.8,1084.9 1991.2,991 1992.6,897.1 1994,812.3 1995.4,745.1 1996.8,701.9 1998.2,687 1999.6,701.9 2001,745.1 2002.4,812.3 2003.8,897.1 2005.2,991 2006.6,1084.9 2008,1169.7 2009.4,1236.9 2010.8,1280.1 2012.2,1295 2013.6,1280.1 2015,1236.9 2016.4,1169.7 2017.8,1084.9 2019.2,991 2020.6,897.1 2022,812.3 2023.4,745.1 2024.8,701.9 2026.2,687 2027.6,701.9 2029,745.1 2030.4,812.3 2031.8,897.1 2033.2,991 2034.6,1084.9 2036,1169.7 2037.4,1236.9 2038.8,1280.1 2040.2,1295 2041.6,1280.1 2043,1236.9 2044.4,1169.7 2045.8,1084.9 2047.2,991 2048.6,897.1 2050,812.3 2051.4,745.1 2052.8,701.9 2054.2,687 2055.5,701.9 2056.9,745.1 2058.3,812.3 2059.7,897.1 2061.1,991 2062.5,1084.9 2063.9,1169.7 2065.3,1236.9 2066.7,1280.1 2068.1,1295 2069.5,1280.1 2070.9,1236.9 2072.3,1169.7 2073.7,1084.9 2074.5,1033.7"/>
</g></g></g>
<rect id="zoom-region" x="1484.1" y="345.8" width="79.9" height="978" fill="#c0c0c0" fill-opacity="0.5" stroke="#f00" stroke-opacity="0.5" stroke-width="3.8"/>
<g id="main-labels">
<text transform="translate(342 1544.5) scale(1.045 1)" font-size="110" text-anchor="middle">0</text>
<text transform="translate(707.9 1544.5) scale(1.045 1)" font-size="110" text-anchor="middle">2,000</text>
<text transform="translate(1073.8 1544.5) scale(1.027 1)" font-size="110" text-anchor="middle">4,000</text>
<text transform="translate(1439.7 1544.5) scale(1.036 1)" font-size="110" text-anchor="middle">6,000</text>
<text transform="translate(1805.6 1544.5) scale(1.022 1)" font-size="110" text-anchor="middle">8,000</text>
<text transform="translate(2171.5 1544.5) scale(1.01 1)" font-size="110" text-anchor="middle">10,000</text>
<text><tspan x="172" y="1308.2" font-size="110" textLength="72.58" lengthAdjust="spacingAndGlyphs">−</tspan><tspan x="241.8" y="1308.2" font-size="110" textLength="52.80" lengthAdjust="spacingAndGlyphs">1</tspan></text>
<text transform="translate(296.5 1023.6) scale(1.045 1)" font-size="110" text-anchor="end">0</text>
<text transform="translate(268.2 739) scale(0.96 1)" font-size="110" text-anchor="middle">1</text>
<text transform="translate(269.3 454.4) scale(1.09 1)" font-size="110" text-anchor="middle">2</text>
<text transform="translate(266.3 169.8) scale(0.95 1)" font-size="110" text-anchor="middle">3</text>
<text transform="translate(1258.3 1659.3) scale(1.036 1)" font-size="110" text-anchor="middle">timestep</text>
<text transform="translate(105.2 778) scale(1.045 1) rotate(-90)" font-size="110" text-anchor="middle">Ez (V/m)</text>
<text><tspan x="309.3" y="126" font-size="113" textLength="66.60" lengthAdjust="spacingAndGlyphs">×</tspan><tspan x="378.9" y="114.6" font-size="110" textLength="108.90" lengthAdjust="spacingAndGlyphs">10</tspan><tspan x="484.5" y="77.5" font-size="77" textLength="47.77" lengthAdjust="spacingAndGlyphs">−</tspan><tspan x="528" y="69.6" font-size="77" textLength="40.23" lengthAdjust="spacingAndGlyphs">4</tspan></text>
</g>
<g id="legend" shape-rendering="crispEdges">
<rect x="1075.2" y="161.2" width="1068.9" height="149.8" fill="#000"/>
<rect x="1078" y="163" width="1064.1" height="144.8" fill="#fff"/>
<rect x="1091" y="231" width="253" height="10.2" fill="#f00"/>
<rect x="1627" y="231" width="43.3" height="10.2" fill="#00f"/>
<rect x="1726.3" y="231" width="43.3" height="10.2" fill="#00f"/>
<rect x="1826" y="231" width="43.3" height="10.2" fill="#00f"/>
</g>
<text transform="translate(1371.5 271.7) scale(1.045 1)" font-size="110" text-anchor="start">GPU</text>
<text transform="translate(1906.2 271.7) scale(1.045 1)" font-size="110" text-anchor="start">CPU</text>
<g id="inset" class="s">
<g shape-rendering="crispEdges">
<rect x="461.3" y="194.9" width="582.3" height="404.1" fill="#fff"/>
<g fill="#000">
<rect x="469.9" y="599" width="2" height="4.6"/>
<rect x="469.9" y="194.9" width="2" height="4.6"/>
<rect x="536.3" y="599" width="2" height="8.6"/>
<rect x="536.3" y="194.9" width="2" height="8.6"/>
<rect x="602.8" y="599" width="2" height="4.6"/>
<rect x="602.8" y="194.9" width="2" height="4.6"/>
<rect x="669.3" y="599" width="2" height="8.6"/>
<rect x="669.3" y="194.9" width="2" height="8.6"/>
<rect x="735.8" y="599" width="2" height="4.6"/>
<rect x="735.8" y="194.9" width="2" height="4.6"/>
<rect x="802.2" y="599" width="2" height="8.6"/>
<rect x="802.2" y="194.9" width="2" height="8.6"/>
<rect x="868.7" y="599" width="2" height="4.6"/>
<rect x="868.7" y="194.9" width="2" height="4.6"/>
<rect x="935.2" y="599" width="2" height="8.6"/>
<rect x="935.2" y="194.9" width="2" height="8.6"/>
<rect x="1001.7" y="599" width="2" height="4.6"/>
<rect x="1001.7" y="194.9" width="2" height="4.6"/>
<rect x="456.5" y="595.4" width="4.8" height="2"/>
<rect x="1038.8" y="595.4" width="4.8" height="2"/>
<rect x="452.5" y="554.8" width="8.8" height="2"/>
<rect x="1034.8" y="554.8" width="8.8" height="2"/>
<rect x="456.5" y="514.2" width="4.8" height="2"/>
<rect x="1038.8" y="514.2" width="4.8" height="2"/>
<rect x="452.5" y="473.6" width="8.8" height="2"/>
<rect x="1034.8" y="473.6" width="8.8" height="2"/>
<rect x="456.5" y="432.9" width="4.8" height="2"/>
<rect x="1038.8" y="432.9" width="4.8" height="2"/>
<rect x="452.5" y="392.3" width="8.8" height="2"/>
<rect x="1034.8" y="392.3" width="8.8" height="2"/>
<rect x="456.5" y="351.7" width="4.8" height="2"/>
<rect x="1038.8" y="351.7" width="4.8" height="2"/>
<rect x="452.5" y="311.1" width="8.8" height="2"/>
<rect x="1034.8" y="311.1" width="8.8" height="2"/>
<rect x="456.5" y="270.4" width="4.8" height="2"/>
<rect x="1038.8" y="270.4" width="4.8" height="2"/>
<rect x="452.5" y="229.8" width="8.8" height="2"/>
<rect x="1034.8" y="229.8" width="8.8" height="2"/>
</g></g>
<g clip-path="url(#ci)" fill="none" stroke-linejoin="round">
<polyline points="445.3,316.9 453.3,355.4 461.3,395.9 469.3,436.4 477.3,474.4 485.2,508 493.2,535.2 501.2,554.6 509.2,565.1 517.1,566.1 525.1,557.6 533.1,539.9 541.1,514.2 549,481.8 557,444.6 565,404.4 573,363.7 581,324.6 588.9,289.3 596.9,259.8 604.9,237.6 612.9,224 620.8,219.8 628.8,225.1 636.8,239.8 644.8,262.9 652.7,293.2 660.7,329 668.7,368.4 676.7,409.2 684.6,449.1 692.6,485.9 700.6,517.6 708.6,542.4 716.6,559 724.5,566.5 732.5,564.4 740.5,552.8 748.5,532.4 756.4,504.4 764.4,470.2 772.4,431.7 780.4,391.2 788.3,350.7 796.3,312.6 804.3,279 812.3,251.7 820.3,232.2 828.2,221.6 836.2,220.5 844.2,228.9 852.2,246.4 860.1,272 868.1,304.3 876.1,341.6 884.1,381.6 892,422.4 900,461.5 908,496.9 916,526.5 923.9,548.8 931.9,562.5 939.9,566.8 947.9,561.6 955.9,547.1 963.8,524.1 971.8,493.8 979.8,458 987.8,418.7 995.7,377.9 1003.7,338 1011.7,301.1 1019.7,269.4 1027.6,244.4 1035.6,227.7 1043.6,220.2 1051.6,222.2 1059.6,233.6" stroke="#f00" stroke-width="3.8"/>
<polyline points="445.3,316.9 453.3,355.4 461.3,395.9 469.3,436.4 477.3,474.4 485.2,508 493.2,535.2 501.2,554.6 509.2,565.1 517.1,566.1 525.1,557.6 533.1,539.9 541.1,514.2 549,481.8 557,444.6 565,404.4 573,363.7 581,324.6 588.9,289.3 596.9,259.8 604.9,237.6 612.9,224 620.8,219.8 628.8,225.1 636.8,239.8 644.8,262.9 652.7,293.2 660.7,329 668.7,368.4 676.7,409.2 684.6,449.1 692.6,485.9 700.6,517.6 708.6,542.4 716.6,559 724.5,566.5 732.5,564.4 740.5,552.8 748.5,532.4 756.4,504.4 764.4,470.2 772.4,431.7 780.4,391.2 788.3,350.7 796.3,312.6 804.3,279 812.3,251.7 820.3,232.2 828.2,221.6 836.2,220.5 844.2,228.9 852.2,246.4 860.1,272 868.1,304.3 876.1,341.6 884.1,381.6 892,422.4 900,461.5 908,496.9 916,526.5 923.9,548.8 931.9,562.5 939.9,566.8 947.9,561.6 955.9,547.1 963.8,524.1 971.8,493.8 979.8,458 987.8,418.7 995.7,377.9 1003.7,338 1011.7,301.1 1019.7,269.4 1027.6,244.4 1035.6,227.7 1043.6,220.2 1051.6,222.2 1059.6,233.6" stroke="#00f" stroke-width="3.8" stroke-dasharray="14.5 16.2"/>
</g>
<rect x="461.3" y="194.9" width="582.3" height="404.1" fill="none" stroke="#000" stroke-width="2.4" shape-rendering="crispEdges"/>
<text transform="translate(536.8 637.8) scale(1.1 1)" font-size="32.7" text-anchor="middle">6,300</text>
<text transform="translate(669.8 637.8) scale(1.1 1)" font-size="32.7" text-anchor="middle">6,400</text>
<text transform="translate(802.7 637.8) scale(1.1 1)" font-size="32.7" text-anchor="middle">6,500</text>
<text transform="translate(935.7 637.8) scale(1.1 1)" font-size="32.7" text-anchor="middle">6,600</text>
<text transform="translate(446.3 241.3) scale(1.06 1)" font-size="32.7" text-anchor="end">1.0</text>
<text transform="translate(446.3 322.6) scale(1.06 1)" font-size="32.7" text-anchor="end">0.5</text>
<text transform="translate(446.3 403.8) scale(1.06 1)" font-size="32.7" text-anchor="end">0.0</text>
<text><tspan x="380" y="485.1" font-size="32.7" textLength="21.21" lengthAdjust="spacingAndGlyphs">−</tspan><tspan x="403" y="485.1" font-size="32.7" textLength="43.33" lengthAdjust="spacingAndGlyphs">0.5</tspan></text>
<text><tspan x="380" y="566.3" font-size="32.7" textLength="21.21" lengthAdjust="spacingAndGlyphs">−</tspan><tspan x="403" y="566.3" font-size="32.7" textLength="43.33" lengthAdjust="spacingAndGlyphs">1.0</tspan></text>
<text transform="translate(751.8 670.2) scale(1.09 1)" font-size="33.3" text-anchor="middle">timestep</text>
<text transform="translate(378 372.5) scale(1.12 1) rotate(-90)" font-size="32.7" text-anchor="middle">Ez (V/m)</text>
<text><tspan x="451.5" y="188.3" font-size="32.7" textLength="19.27" lengthAdjust="spacingAndGlyphs">×</tspan><tspan x="473.5" y="185.2" font-size="32.7" textLength="34.17" lengthAdjust="spacingAndGlyphs">10</tspan><tspan x="504.5" y="175.5" font-size="23.5" textLength="14.58" lengthAdjust="spacingAndGlyphs">−</tspan><tspan x="518.5" y="173.2" font-size="23.5" textLength="12.28" lengthAdjust="spacingAndGlyphs">4</tspan></text>
</g>
<g id="magnifier" transform="translate(1157 449.3)">
<rect width="102" height="95.4" fill="#fdfdfd"/>
<g transform="scale(1.045 1)" fill="none" stroke="#444" filter="url(#bl)">
<circle cx="32.5" cy="31.2" r="27.4" stroke-width="6.2"/>
<path d="M17.5 31.2H47.5M32.5 16.2V46.2" stroke-width="5.8"/>
<path d="M53.5 51.5L89 86" stroke-width="10" stroke-linecap="round"/>
</g></g>
<g id="arrow"><line x1="1473.4" y1="661.1" x2="1078" y2="480" stroke="#808000" stroke-width="2.6"/>
<polygon points="1048.1,466.3 1086,473.5 1077,489.8" fill="#808000"/></g>
</svg></body></html>
